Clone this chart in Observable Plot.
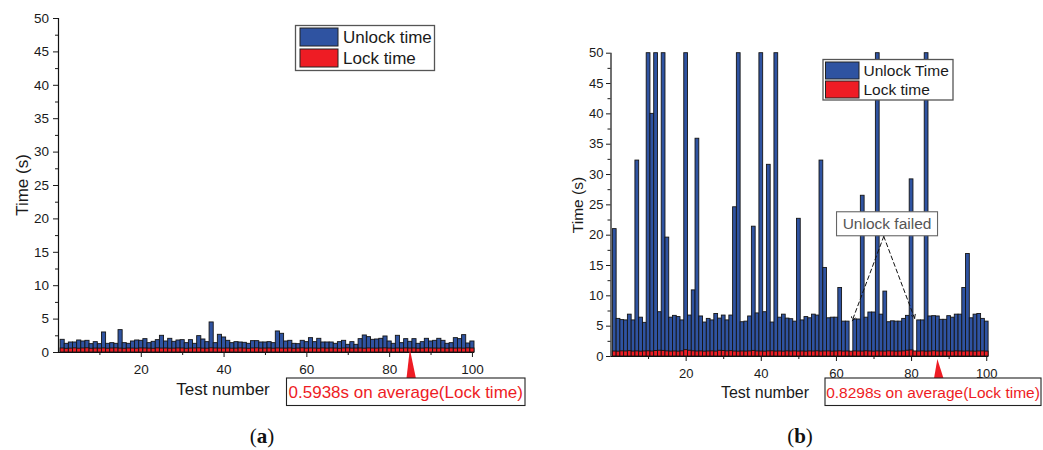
<!DOCTYPE html>
<html><head><meta charset="utf-8">
<script src="https://cdn.jsdelivr.net/npm/d3@7"></script>
<script src="https://cdn.jsdelivr.net/npm/@observablehq/plot@0.6"></script>
<style>
body{margin:0;background:#fff;}
#wrap{position:relative;width:1043px;height:450px;overflow:hidden;font-family:"Liberation Sans",Arial,sans-serif;}
#wrap svg{position:absolute;top:0;}
</style></head><body><div id="wrap"></div>
<script>
// ---------- data ----------
const testNumbers = d3.range(1, 101);

const unlockA = [
  1.9, 1.3, 1.5, 1.5, 1.8, 1.65, 1.75, 1.25, 1.55, 1.25,
  3.0, 1.3, 1.4, 1.3, 3.35, 1.4, 1.3, 1.65, 1.8, 1.75,
  2.0, 1.4, 1.6, 1.85, 2.5, 1.65, 2.05, 1.6, 1.8, 1.85,
  1.4, 1.85, 1.3, 2.45, 1.95, 1.55, 4.5, 1.4, 2.65, 2.25,
  1.75, 1.4, 1.55, 1.5, 1.45, 1.3, 1.7, 1.7, 1.5, 1.5,
  1.55, 1.4, 3.15, 2.8, 1.65, 1.75, 1.3, 1.25, 1.75, 1.55,
  2.15, 1.55, 2.05, 1.5, 1.5, 1.5, 1.3, 1.55, 1.75, 1.15,
  1.55, 1.15, 2.0, 2.55, 2.3, 1.9, 1.95, 2.05, 2.4, 1.65,
  1.3, 2.5, 1.4, 2.0, 1.6, 2.0, 1.3, 1.55, 2.05, 1.65,
  1.75, 2.05, 1.75, 1.3, 1.4, 2.15, 2.0, 2.6, 1.35, 1.65
];
const lockA = [
  0.60, 0.55, 0.58, 0.62, 0.57, 0.60, 0.63, 0.56, 0.59, 0.58,
  0.61, 0.57, 0.60, 0.62, 0.58, 0.56, 0.60, 0.59, 0.57, 0.61,
  0.60, 0.58, 0.56, 0.62, 0.59, 0.60, 0.57, 0.58, 0.61, 0.60,
  0.56, 0.59, 0.60, 0.62, 0.58, 0.57, 0.63, 0.60, 0.59, 0.58,
  0.60, 0.57, 0.58, 0.61, 0.59, 0.56, 0.60, 0.62, 0.58, 0.59,
  0.60, 0.57, 0.61, 0.59, 0.58, 0.60, 0.56, 0.59, 0.62, 0.58,
  0.60, 0.59, 0.57, 0.61, 0.58, 0.60, 0.59, 0.56, 0.60, 0.62,
  0.58, 0.59, 0.60, 0.57, 0.61, 0.59, 0.58, 0.60, 0.62, 0.59,
  0.57, 0.60, 0.58, 0.61, 0.59, 0.60, 0.57, 0.58, 0.62, 0.60,
  0.59, 0.58, 0.60, 0.57, 0.61, 0.59, 0.60, 0.58, 0.62, 0.60
];
// values above the 50 s axis limit are drawn to the top of the frame
const unlockB = [
  21.0, 6.2, 6.0, 5.95, 6.9, 5.95, 32.3, 6.4, 5.55, 60,
  40.0, 60, 7.3, 60, 19.6, 6.4, 6.7, 6.5, 5.95, 60,
  6.75, 10.9, 35.9, 6.6, 5.6, 6.2, 5.95, 7.0, 6.25, 6.75,
  5.95, 6.75, 24.6, 60, 5.65, 5.75, 6.6, 21.4, 7.1, 60,
  7.3, 31.6, 5.6, 60, 6.4, 6.9, 6.25, 6.15, 5.75, 22.7,
  5.95, 6.5, 6.3, 6.9, 6.75, 32.3, 14.6, 6.3, 6.4, 6.4,
  11.3, 5.75, 5.75, 0, 6.1, 6.1, 26.5, 6.4, 7.25, 7.25,
  60, 6.9, 10.7, 5.65, 5.8, 5.75, 5.75, 6.2, 6.7, 29.2,
  0, 5.95, 5.95, 60, 6.6, 6.65, 6.6, 6.05, 6.05, 6.65,
  6.4, 6.9, 6.9, 11.3, 16.9, 6.3, 6.9, 7.0, 6.2, 5.75
];
const lockB = [
  0.82, 0.80, 0.85, 0.83, 0.88, 0.81, 0.84, 0.80, 0.83, 0.86,
  0.82, 0.90, 0.95, 0.92, 0.84, 0.81, 0.83, 0.80, 0.85, 1.05,
  0.95, 0.86, 0.82, 0.84, 0.80, 0.83, 0.85, 0.81, 0.94, 0.90,
  0.84, 0.88, 0.82, 0.80, 0.83, 0.81, 0.84, 0.92, 0.83, 0.82,
  0.80, 0.84, 0.86, 0.81, 0.83, 0.80, 0.85, 0.82, 0.84, 0.81,
  0.83, 0.80, 0.84, 0.82, 0.86, 0.81, 0.83, 0.84, 0.80, 0.82,
  0.85, 0.81, 0.83, 0.80, 0.84, 0.82, 0.81, 0.86, 0.83, 0.80,
  0.84, 0.82, 0.81, 0.85, 0.83, 0.80, 0.82, 0.84, 0.95, 1.00,
  0.83, 0.81, 0.84, 0.80, 0.82, 0.86, 0.83, 0.81, 0.84, 0.82,
  0.80, 0.85, 0.83, 0.81, 0.84, 0.82, 0.80, 0.83, 0.84, 0.81
];

const yTicks = d3.range(0, 51, 5);
const yMinorTicks = d3.range(2.5, 50, 5);
const xTicks = [20, 40, 60, 80, 100];
const xMinorTicks = [10, 30, 50, 70, 90];

const legendA = ["Unlock time", "Lock time"];
const legendB = ["Unlock Time", "Lock time"];
const averageA = "0.5938s on average(Lock time)";
const averageB = "0.8298s on average(Lock time)";
const averageMarkA = 85;
const averageMarkB = 87;
const failedLabel = "Unlock failed";
const failedLabelAt = {test: 73.6, time: 21.8};
const failedArrowFrom = {test: 72.6, time: 19.8};
const failedTargets = [{test: 64.2, time: 5.9}, {test: 80.8, time: 6.3}];
const yLabel = "Time (s)";
const xLabel = "Test number";

// ---------- style ----------
const BLUE = "#2f53a1";
const RED = "#ee1c24";
const FONT = "'Liberation Sans', Arial, sans-serif";

function panel(cfg) {
  const rows = testNumbers.map((t, i) => ({t, unlock: cfg.unlock[i], lock: cfg.lock[i]}));
  const chart = Plot.plot({
    width: cfg.width, height: 450,
    marginLeft: cfg.ml, marginRight: cfg.mr, marginTop: cfg.mt, marginBottom: cfg.mb,
    style: {fontFamily: FONT, fontSize: cfg.tickFont + "px", color: "#1a1a1a", background: "transparent", overflow: "visible"},
    x: {domain: [0, 100.5]},
    y: {domain: [0, 50], clamp: true},
    marks: [
      Plot.rect(rows, {x1: d => d.t - 0.5, x2: d => d.t + 0.5, y1: d => 0, y2: "unlock", fill: BLUE, stroke: "#151515", strokeWidth: 0.9}),
      Plot.rect(rows, {x1: d => d.t - 0.5, x2: d => d.t + 0.5, y1: d => 0, y2: "lock", fill: RED, stroke: "#151515", strokeWidth: 0.9}),
      Plot.ruleX([0], {stroke: "#111", strokeWidth: 1.2}),
      Plot.ruleY([0], {stroke: "#111", strokeWidth: 1.2}),
      Plot.axisY({ticks: yTicks, tickSize: cfg.yTick, tickPadding: cfg.yPad, label: null, tickFormat: d => d}),
      Plot.axisY({ticks: yMinorTicks, tickSize: 3, text: null, label: null}),
      Plot.axisX({ticks: xTicks, tickSize: 5, tickPadding: 7, label: null, tickFormat: d => d}),
      Plot.axisX({ticks: xMinorTicks, tickSize: 3, text: null, label: null}),
      ...(cfg.extraMarks || [])
    ]
  });
  chart.style.left = cfg.left + "px";
  document.getElementById("wrap").appendChild(chart);
  const sx = chart.scale("x"), sy = chart.scale("y");
  const svg = d3.select(chart);
  const g = svg.append("g").attr("font-family", FONT).attr("text-anchor", "start");

  // axis titles
  g.append("text").attr("transform", `translate(${cfg.yLabelX},${cfg.yLabelY}) rotate(-90)`)
    .attr("text-anchor", "middle").attr("font-size", cfg.labelFont).attr("fill", "#1a1a1a").text(yLabel);
  g.append("text").attr("x", cfg.xLabelX).attr("y", cfg.xLabelY)
    .attr("text-anchor", "middle").attr("font-size", cfg.xLabelFont).attr("fill", "#1a1a1a").text(xLabel);

  // legend
  const L = cfg.legend;
  g.append("rect").attr("x", L.x).attr("y", L.y).attr("width", L.w).attr("height", L.h)
    .attr("fill", "#fff").attr("stroke", "#555").attr("stroke-width", 1.3);
  [BLUE, RED].forEach((c, i) => {
    g.append("rect").attr("x", L.sx).attr("y", L.sy + i * L.step).attr("width", L.sw).attr("height", L.sh)
      .attr("fill", c).attr("stroke", "#222").attr("stroke-width", 1);
    g.append("text").attr("x", L.tx).attr("y", L.ty + i * L.step).attr("font-size", cfg.labelFont)
      .attr("text-anchor", "start").attr("fill", "#1a1a1a").text(cfg.legendText[i]);
  });

  // average marker + box
  const ax = sx.apply(cfg.mark), ay = sy.apply(0);
  g.append("polygon").attr("points", `${ax},${ay + cfg.apexDy} ${ax - 3.3},${cfg.box.y} ${ax + 6},${cfg.box.y}`).attr("fill", RED);
  g.append("rect").attr("x", cfg.box.x).attr("y", cfg.box.y).attr("width", cfg.box.w).attr("height", cfg.box.h)
    .attr("fill", "#fff").attr("stroke", "#222").attr("stroke-width", 1.1);
  g.append("text").attr("x", cfg.box.x + cfg.box.w / 2).attr("y", cfg.box.y + cfg.box.h - 8)
    .attr("text-anchor", "middle").attr("font-size", cfg.boxFont).attr("fill", RED).text(cfg.avgText);

  // caption
  const cap = g.append("text").attr("x", cfg.capX).attr("y", 443).attr("text-anchor", "middle")
    .attr("font-family", "'Liberation Serif', 'DejaVu Serif', serif").attr("font-size", 21).attr("fill", "#111");
  cap.append("tspan").text("(");
  cap.append("tspan").attr("font-weight", "bold").text(cfg.capLetter);
  cap.append("tspan").text(")");
  return {chart, sx, sy, g};
}

// panel (a)
panel({
  unlock: unlockA, lock: lockA, left: 0, width: 540, ml: 58, mr: 66, mt: 18, mb: 98,
  tickFont: 13.5, yTick: 5, yPad: 4.5, labelFont: 17, xLabelFont: 17,
  yLabelX: 28, yLabelY: 185, xLabelX: 223, xLabelY: 395,
  legend: {x: 295.5, y: 25.5, w: 139, h: 45, sx: 300, sy: 28, sw: 38, sh: 18, step: 21, tx: 343, ty: 42.5},
  legendText: legendA,
  mark: averageMarkA, apexDy: -3, box: {x: 286.5, y: 378, w: 238.5, h: 27.5}, boxFont: 17, avgText: averageA,
  capX: 262, capLetter: "a"
});

// panel (b)
const failedArrows = failedTargets.map(t => ({x1: failedArrowFrom.test, y1: failedArrowFrom.time, x2: t.test, y2: t.time}));
const pb = panel({
  unlock: unlockB, lock: lockB, left: 540, width: 503, ml: 70.5, mr: 54.9, mt: 52.7, mb: 94,
  tickFont: 13, yTick: 4.5, yPad: 3, labelFont: 15.5, xLabelFont: 16,
  yLabelX: 43, yLabelY: 205, xLabelX: 225, xLabelY: 398,
  legend: {x: 283, y: 59.5, w: 130, h: 40.5, sx: 285.5, sy: 62, sw: 33.5, sh: 17, step: 19, tx: 323.5, ty: 76},
  legendText: legendB,
  mark: averageMarkB, apexDy: 3, box: {x: 285, y: 378, w: 216, h: 27.5}, boxFont: 15.5, avgText: averageB,
  capX: 260, capLetter: "b",
  extraMarks: [
    Plot.arrow(failedArrows, {x1: "x1", y1: "y1", x2: "x2", y2: "y2", stroke: "#111", strokeWidth: 1, strokeDasharray: "4,3", headLength: 6, bend: 0})
  ]
});
// "Unlock failed" label box
{
  const cx = pb.sx.apply(failedLabelAt.test), cy = pb.sy.apply(failedLabelAt.time);
  pb.g.append("rect").attr("x", cx - 50.5).attr("y", cy - 12).attr("width", 101).attr("height", 24)
    .attr("fill", "#fff").attr("stroke", "#666").attr("stroke-width", 1.1);
  pb.g.append("text").attr("x", cx).attr("y", cy + 5.5).attr("text-anchor", "middle")
    .attr("font-size", 15.5).attr("fill", "#555").text(failedLabel);
}
</script></body></html>
